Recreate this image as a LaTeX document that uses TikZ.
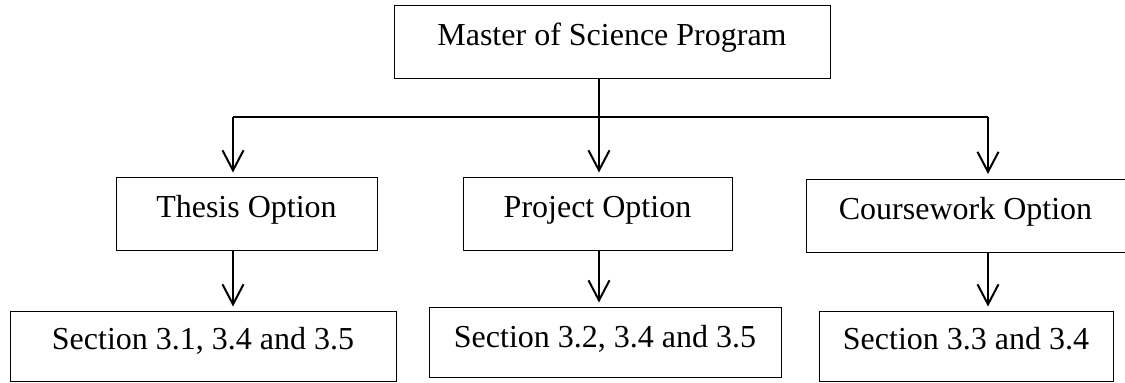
\documentclass[tikz,border=0pt]{standalone}
\usepackage{fontspec}
\setmainfont{Liberation Serif}
\usetikzlibrary{arrows.meta}

\tikzset{
  optbox/.style={draw, line width=0.5pt, inner sep=0pt, text height=20pt, text depth=16.5pt, font=\fontsize{16}{19}\selectfont},
  secbox/.style={optbox, text height=19pt, text depth=16pt},
  link/.style={line width=1pt, -{Straight Barb[length=10pt,width=10.5pt]}, shorten >=2.5pt}
}

\begin{document}
\begin{tikzpicture}[x=0.5pt,y=-0.5pt]
        \useasboundingbox (0,0) rectangle (1125,383);
        % boxes
        \node[optbox, minimum width=218pt] (master) at (612,42.5) {Master of Science Program};
        \node[optbox, minimum width=130.5pt] (thesis) at (246.5,214.5) {Thesis Option};
        \node[optbox, minimum width=134.5pt] (project) at (597.5,214.5) {Project Option};
        \node[optbox, minimum width=159.5pt] (course) at (965.5,216) {Coursework Option};
        \node[secbox, minimum width=193pt] (secA) at (203,347) {Section 3.1, 3.4 and 3.5};
        \node[secbox, minimum width=176pt, text height=20pt, text depth=15pt] (secB) at (605,343) {Section 3.2, 3.4 and 3.5};
        \node[secbox, minimum width=147pt] (secC) at (966,347) {Section 3.3 and 3.4};
        % branch line
        \coordinate (busL) at (233,117);
        \coordinate (busM) at (599,117);
        \coordinate (busR) at (988,117);
        \draw[line width=1pt] (busM |- master.south) -- (busM);
        \draw[line width=1pt] (busL) -- (busR);
        \draw[link] (busL) -- (busL |- thesis.north);
        \draw[link] (busM) -- (busM |- project.north);
        \draw[link] (busR) -- (busR |- course.north);
        % down to the sections
        \draw[link] (busL |- thesis.south) -- (busL |- secA.north);
        \draw[link] (busM |- project.south) -- (busM |- secB.north);
        \draw[link] (busR |- course.south) -- (busR |- secC.north);
      \end{tikzpicture}
\end{document}
